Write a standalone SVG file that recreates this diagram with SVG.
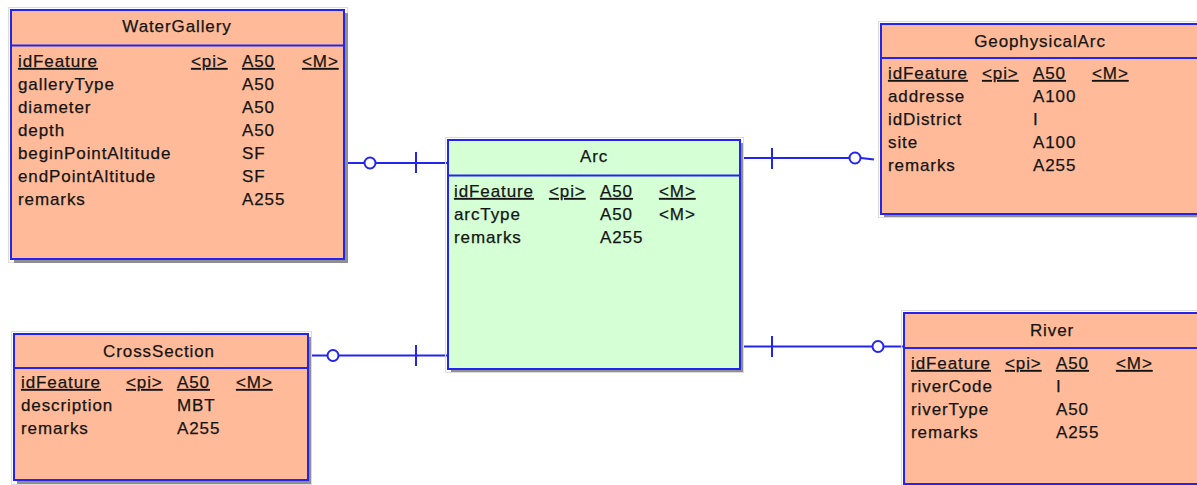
<svg xmlns="http://www.w3.org/2000/svg" width="1197" height="485" viewBox="0 0 1197 485">
<style>
.bg{fill:#ffffff}
.frame{fill:none;stroke:#dcdcdc;stroke-width:1}
.shadow{fill:#8f8f8f}
.ent{fill:#FFBB99;stroke:#2424F0;stroke-width:2}
.ent.arc{fill:#D5FFD5}
.sep{stroke:#2424F0;stroke-width:2}
text{font-family:"Liberation Sans",Arial,sans-serif;font-size:17px;letter-spacing:0.9px;fill:#141414;stroke:#141414;stroke-width:0.25}
.t{text-anchor:middle}
.u{text-decoration:underline}
.cn line{stroke:#2424F0;stroke-width:2}
.cn circle{fill:#ffffff;stroke:#2424F0;stroke-width:2}
</style>
<rect class="bg" x="0" y="0" width="1197" height="485"/>

<g id="connectors" class="cn">
  <line x1="346" y1="163" x2="448" y2="163"/>
  <line x1="416" y1="152" x2="416" y2="173"/>
  <circle cx="370" cy="163" r="5.5"/>

  <line x1="309" y1="355.5" x2="448" y2="355.5"/>
  <line x1="416" y1="345" x2="416" y2="366"/>
  <circle cx="333" cy="355.5" r="5.5"/>

  <line x1="741" y1="158" x2="861" y2="158"/>
  <line x1="861" y1="158" x2="874" y2="159.5"/>
  <line x1="772" y1="148" x2="772" y2="169"/>
  <circle cx="855" cy="158" r="5.5"/>

  <line x1="741" y1="346.5" x2="904" y2="346.5"/>
  <line x1="772" y1="336" x2="772" y2="357"/>
  <circle cx="878" cy="346.5" r="5.5"/>
</g>

<g id="WaterGallery">
  <rect class="frame" x="8.5" y="7.5" width="339" height="255"/>
  <rect class="shadow" x="14" y="13" width="334" height="250"/>
  <rect class="ent" x="11" y="10" width="333" height="249"/>
  <line class="sep" x1="11" y1="45.5" x2="344" y2="45.5"/>
  <text class="t" x="177" y="32">WaterGallery</text>
  <text class="u" x="18" y="67">idFeature</text>
  <text class="u" x="191" y="67">&lt;pi&gt;</text>
  <text class="u" x="242" y="67">A50</text>
  <text class="u" x="302" y="67">&lt;M&gt;</text>
  <text x="18" y="90">galleryType</text><text x="242" y="90">A50</text>
  <text x="18" y="113">diameter</text><text x="242" y="113">A50</text>
  <text x="18" y="136">depth</text><text x="242" y="136">A50</text>
  <text x="18" y="159">beginPointAltitude</text><text x="242" y="159">SF</text>
  <text x="18" y="182">endPointAltitude</text><text x="242" y="182">SF</text>
  <text x="18" y="205">remarks</text><text x="242" y="205">A255</text>
</g>

<g id="Arc">
  <rect class="frame" x="445.5" y="137.5" width="298" height="235"/>
  <rect class="shadow" x="451" y="143" width="292" height="229"/>
  <rect class="ent arc" x="448" y="140" width="292" height="229"/>
  <line class="sep" x1="448" y1="175.5" x2="740" y2="175.5"/>
  <text class="t" x="594" y="162">Arc</text>
  <text class="u" x="454" y="197">idFeature</text>
  <text class="u" x="549" y="197">&lt;pi&gt;</text>
  <text class="u" x="600" y="197">A50</text>
  <text class="u" x="659" y="197">&lt;M&gt;</text>
  <text x="454" y="220">arcType</text><text x="600" y="220">A50</text><text x="659" y="220">&lt;M&gt;</text>
  <text x="454" y="243">remarks</text><text x="600" y="243">A255</text>
</g>

<g id="GeophysicalArc">
  <rect class="frame" x="878.5" y="21.5" width="340" height="196"/>
  <rect class="shadow" x="884" y="27" width="330" height="190"/>
  <rect class="ent" x="881" y="24" width="330" height="190"/>
  <line class="sep" x1="881" y1="58" x2="1211" y2="58"/>
  <text class="t" x="1040" y="47">GeophysicalArc</text>
  <text class="u" x="888" y="79">idFeature</text>
  <text class="u" x="982" y="79">&lt;pi&gt;</text>
  <text class="u" x="1033" y="79">A50</text>
  <text class="u" x="1092" y="79">&lt;M&gt;</text>
  <text x="888" y="102">addresse</text><text x="1033" y="102">A100</text>
  <text x="888" y="125">idDistrict</text><text x="1033" y="125">I</text>
  <text x="888" y="148">site</text><text x="1033" y="148">A100</text>
  <text x="888" y="171">remarks</text><text x="1033" y="171">A255</text>
</g>

<g id="CrossSection">
  <rect class="frame" x="11.5" y="331.5" width="300" height="153"/>
  <rect class="shadow" x="17" y="337" width="294" height="147"/>
  <rect class="ent" x="14" y="334" width="294" height="146"/>
  <line class="sep" x1="14" y1="368" x2="308" y2="368"/>
  <text class="t" x="159" y="357">CrossSection</text>
  <text class="u" x="21" y="388">idFeature</text>
  <text class="u" x="126" y="388">&lt;pi&gt;</text>
  <text class="u" x="177" y="388">A50</text>
  <text class="u" x="236" y="388">&lt;M&gt;</text>
  <text x="21" y="411">description</text><text x="177" y="411">MBT</text>
  <text x="21" y="434">remarks</text><text x="177" y="434">A255</text>
</g>

<g id="River">
  <rect class="frame" x="901.5" y="310.5" width="320" height="180"/>
  <rect class="shadow" x="907" y="316" width="320" height="171"/>
  <rect class="ent" x="904" y="313" width="320" height="171"/>
  <line class="sep" x1="904" y1="348" x2="1224" y2="348"/>
  <text class="t" x="1052" y="336">River</text>
  <text class="u" x="911" y="369">idFeature</text>
  <text class="u" x="1005" y="369">&lt;pi&gt;</text>
  <text class="u" x="1056" y="369">A50</text>
  <text class="u" x="1116" y="369">&lt;M&gt;</text>
  <text x="911" y="392">riverCode</text><text x="1056" y="392">I</text>
  <text x="911" y="415">riverType</text><text x="1056" y="415">A50</text>
  <text x="911" y="438">remarks</text><text x="1056" y="438">A255</text>
</g>
</svg>
